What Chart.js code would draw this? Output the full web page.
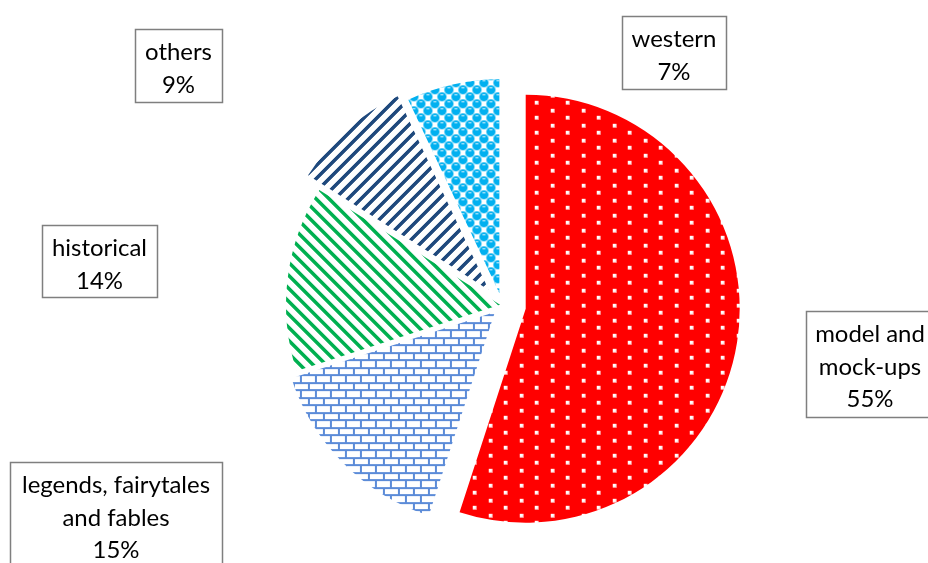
<!DOCTYPE html>
<html>
<head>
<meta charset="utf-8">
<script src="https://cdn.jsdelivr.net/npm/chart.js@4/dist/chart.umd.min.js"></script>
<style>
  html, body { margin: 0; padding: 0; background: #ffffff; overflow: hidden; }
  #wrap { position: relative; width: 928px; height: 563px; }
</style>
</head>
<body>
<div id="wrap"><canvas id="c" width="928" height="563"></canvas></div>
<script>
// ---------- data ----------
const categories = ['model and mock-ups', 'legends, fairytales and fables', 'historical', 'others', 'western'];
const values = [55, 15, 14, 9, 7];
const labelLines = [['model and', 'mock-ups'], ['legends, fairytales', 'and fables'], ['historical'], ['others'], ['western']];

// ---------- layout / style (not data) ----------
const explodePx = [24, 10, 2, 20, 12];
const labelBoxes = [
  { x1: 806, y1: 311, x2: 934, y2: 417 },
  { x1: 10,  y1: 462, x2: 222, y2: 580 },
  { x1: 42,  y1: 225, x2: 157, y2: 297 },
  { x1: 135, y1: 29,  x2: 222, y2: 102 },
  { x1: 622, y1: 16,  x2: 726, y2: 89 }
];
const FONT_FAMILY = 'Lato, "Open Sans", sans-serif';

function tile(w, h, fn) {
  const c = document.createElement('canvas');
  c.width = w; c.height = h;
  const g = c.getContext('2d');
  fn(g, w, h);
  return document.getElementById('c').getContext('2d').createPattern(c, 'repeat');
}
function hexRgb(h) { return [parseInt(h.slice(1,3),16), parseInt(h.slice(3,5),16), parseInt(h.slice(5,7),16)]; }
function stripes(color, period, width, up) {
  return tile(period, period, (g, w, h) => {
    const img = g.createImageData(w, h);
    const [r, gg, b] = hexRgb(color);
    for (let y = 0; y < h; y++) for (let x = 0; x < w; x++) {
      const k = up ? (x + y) : (x - y);
      const m = ((k % period) + period) % period;
      const i = (y * w + x) * 4;
      if (m < width) { img.data[i] = r; img.data[i+1] = gg; img.data[i+2] = b; }
      else { img.data[i] = 255; img.data[i+1] = 255; img.data[i+2] = 255; }
      img.data[i+3] = 255;
    }
    g.putImageData(img, 0, 0);
  });
}
function buildPatterns() {
  const dots = tile(31, 15, (g, w, h) => {
    g.fillStyle = '#ff0000'; g.fillRect(0, 0, w, h);
    g.fillStyle = '#ffb3b3';
    g.fillRect(0, 0, 4, 4); g.fillRect(15, 7, 4, 4);
    g.fillStyle = '#ffffff';
    g.fillRect(0, 0, 3, 3); g.fillRect(15, 7, 3, 3);
  });
  const bricks = tile(15, 15, (g, w, h) => {
    g.fillStyle = '#ffffff'; g.fillRect(0, 0, w, h);
    g.fillStyle = '#5b8bd8';
    g.fillRect(0, 0, w, 2); g.fillRect(0, 7, w, 2);
    g.fillRect(0, 2, 2, 5); g.fillRect(7, 9, 2, 6);
  });
  const green = stripes('#00b050', 13, 5, false);
  const navy = stripes('#1f497d', 13, 5, true);
  const spheres = tile(14, 14, (g, w, h) => {
    g.fillStyle = '#ffffff'; g.fillRect(0, 0, w, h);
    g.fillStyle = '#00b0f0';
    [[3.5, 3.5], [10.5, 10.5], [-3.5, 10.5], [10.5, -3.5], [17.5, 3.5], [3.5, 17.5], [17.5, 17.5], [-3.5, -3.5]].forEach(([x, y]) => {
      g.beginPath(); g.arc(x, y, 4.6, 0, Math.PI * 2); g.fill();
    });
    g.fillStyle = 'rgba(255,255,255,0.85)';
    g.fillRect(2, 1, 3, 1); g.fillRect(9, 8, 3, 1);
  });
  return [dots, bricks, green, navy, spheres];
}

// exploded slices: translate each arc along its mid angle
const ArcEl = Chart.elements.ArcElement;
const origDraw = ArcEl.prototype.draw;
ArcEl.prototype.draw = function (ctx) {
  const e = this.$explode || 0;
  if (!e) return origDraw.call(this, ctx);
  const mid = (this.startAngle + this.endAngle) / 2;
  ctx.save();
  ctx.translate(Math.cos(mid) * e, Math.sin(mid) * e);
  origDraw.call(this, ctx);
  ctx.restore();
};

const explodePlugin = {
  id: 'explode',
  beforeDatasetsDraw(chart) {
    const meta = chart.getDatasetMeta(0);
    meta.data.forEach((el, i) => { el.$explode = explodePx[i] || 0; });
  }
};

const labelPlugin = {
  id: 'boxLabels',
  afterDraw(chart) {
    const ctx = chart.ctx;
    const total = values.reduce((a, b) => a + b, 0);
    ctx.save();
    ctx.font = '100px ' + FONT_FAMILY;
    const size = 100 * 95 / ctx.measureText('historical').width;
    ctx.font = size.toFixed(2) + 'px ' + FONT_FAMILY;
    ctx.textAlign = 'center';
    ctx.textBaseline = 'alphabetic';
    values.forEach((v, i) => {
      const b = labelBoxes[i];
      ctx.fillStyle = '#ffffff';
      ctx.fillRect(b.x1, b.y1, b.x2 - b.x1, b.y2 - b.y1);
      ctx.strokeStyle = '#7f7f7f';
      ctx.lineWidth = 1.5;
      ctx.strokeRect(b.x1 + 0.5, b.y1 + 0.5, b.x2 - b.x1, b.y2 - b.y1);
      const lines = labelLines[i].concat([Math.round(v / total * 100) + '%']);
      const cx = (b.x1 + b.x2) / 2;
      ctx.fillStyle = '#000000';
      lines.forEach((t, k) => ctx.fillText(t, cx, b.y1 + 31 + k * 32.5));
    });
    ctx.restore();
  }
};

function draw() {
  const patterns = buildPatterns();
  new Chart(document.getElementById('c'), {
    type: 'pie',
    data: {
      labels: categories,
      datasets: [{ data: values, backgroundColor: patterns, borderWidth: 0, hoverOffset: 0, radius: 214 }]
    },
    options: {
      responsive: false,
      animation: false,
      devicePixelRatio: 1,
      radius: 214,
      events: [],
      layout: { padding: { left: 76, right: 0, top: 47, bottom: 0 } },
      plugins: { legend: { display: false }, tooltip: { enabled: false } }
    },
    plugins: [explodePlugin, labelPlugin]
  });
}
if (document.fonts && document.fonts.load) {
  document.fonts.load('24px Lato').then(draw, draw);
} else { draw(); }
</script>
</body>
</html>
